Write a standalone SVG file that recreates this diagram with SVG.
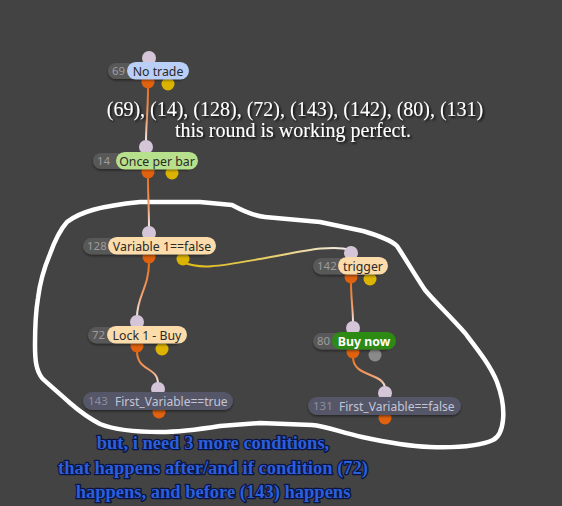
<svg xmlns="http://www.w3.org/2000/svg" width="562" height="506" viewBox="0 0 562 506">
<defs>
<style>
.bg{fill:#434343}
.idp{fill:#585858}
.idt{font-family:"Noto Sans","Open Sans",sans-serif;font-size:11.5px;fill:#9c9c9c}
.lbt{font-family:"Noto Sans","Open Sans",sans-serif;font-size:12.3px;fill:#2a2a2a;text-anchor:middle}
.blue{fill:#b9cff7}
.lgreen{fill:#b7e08c}
.beige{fill:#fcdcaa}
.dgreen{fill:#2d8a12}
.slate{fill:#555668}
.slt{font-family:"Noto Sans","Open Sans",sans-serif;font-size:12px;fill:#c4c5d4}
.pin{fill:#d4c6d8}
.out{fill:#e0620e}
.yel{fill:#dcb400}
.gry{fill:#8a8a8a}
.edge{fill:none;stroke-width:2}
.loop{fill:none;stroke:#ffffff;stroke-width:4.5;stroke-linejoin:round;stroke-linecap:round}
.wt{font-family:"Liberation Serif","Times New Roman",serif;font-size:20px;fill:#ffffff;text-anchor:middle}
.bt{font-family:"Liberation Serif","Times New Roman",serif;font-size:18.5px;font-weight:bold;fill:#2b5fdc;stroke:#0b1440;stroke-width:2.5;paint-order:stroke;stroke-linejoin:round;text-anchor:middle}
</style>
<filter id="sh" x="-10%" y="-30%" width="120%" height="160%">
<feDropShadow dx="1.5" dy="1.5" stdDeviation="1" flood-color="#000" flood-opacity="0.9"/>
</filter>
<filter id="nsh" x="-10%" y="-30%" width="120%" height="180%">
<feDropShadow dx="0" dy="1.5" stdDeviation="1.2" flood-color="#000" flood-opacity="0.45"/>
</filter>
<linearGradient id="g1" gradientUnits="userSpaceOnUse" x1="0" y1="88" x2="0" y2="142"><stop offset="0" stop-color="#e8701a"/><stop offset="0.6" stop-color="#f0a070"/><stop offset="1" stop-color="#f4eef2"/></linearGradient>
<linearGradient id="g2" gradientUnits="userSpaceOnUse" x1="0" y1="178" x2="0" y2="228"><stop offset="0" stop-color="#e8701a"/><stop offset="0.6" stop-color="#f0a070"/><stop offset="1" stop-color="#f4eef2"/></linearGradient>
<linearGradient id="g3" gradientUnits="userSpaceOnUse" x1="0" y1="262" x2="0" y2="317"><stop offset="0" stop-color="#e8701a"/><stop offset="0.6" stop-color="#f0a070"/><stop offset="1" stop-color="#f4eef2"/></linearGradient>
<linearGradient id="g4" gradientUnits="userSpaceOnUse" x1="183" y1="0" x2="351" y2="0"><stop offset="0" stop-color="#e0bc10"/><stop offset="0.55" stop-color="#ead070"/><stop offset="1" stop-color="#f4eef2"/></linearGradient>
<linearGradient id="g5" gradientUnits="userSpaceOnUse" x1="0" y1="282" x2="0" y2="323"><stop offset="0" stop-color="#e8701a"/><stop offset="0.6" stop-color="#f0a070"/><stop offset="1" stop-color="#f4eef2"/></linearGradient>
<linearGradient id="g6" gradientUnits="userSpaceOnUse" x1="0" y1="351" x2="0" y2="384"><stop offset="0" stop-color="#e8701a"/><stop offset="0.6" stop-color="#f0a070"/><stop offset="1" stop-color="#f4eef2"/></linearGradient>
<linearGradient id="g7" gradientUnits="userSpaceOnUse" x1="0" y1="357" x2="0" y2="389"><stop offset="0" stop-color="#e8701a"/><stop offset="0.6" stop-color="#f0a070"/><stop offset="1" stop-color="#f4eef2"/></linearGradient>
</defs>
<rect class="bg" x="0" y="0" width="562" height="506"/>

<g id="loop">
<path class="loop" d="M67,222 C80,212 100,206 140,202 L200,202 L232,205 C245,212 255,216 265,217 L320,222 L363,231 C380,236 392,241 397,246 C405,258 415,275 425,290 C435,302 448,314 465,333 C478,350 490,365 497,382 C503,398 504,410 503,420 C502,430 499,437 493,440 C480,446 460,448 430,447 C405,446 385,442 362,437 C340,432 325,426 312,425 L260,423 L220,426 C195,430 175,432 160,432 C135,432 115,430 100,424 C85,416 78,410 70,403 C58,392 48,384 42,378 C36,370 35,360 35,345 C35,325 36,310 38,298 C40,282 45,266 50,254 C55,240 60,230 67,222 Z"/>
</g>

<g id="connectors">
<path class="edge" stroke="url(#g1)" d="M148,88 C148,110 146,125 146,142"/>
<path class="edge" stroke="url(#g2)" d="M148,178 C148,195 149,210 149,228"/>
<path class="edge" stroke="url(#g3)" d="M149,262 C149,288 137,296 137,317"/>
<path class="edge" stroke="url(#g4)" d="M183,262 C200,270 220,266 260,259 C300,252 330,244 351,250"/>
<path class="edge" stroke="url(#g5)" d="M351,282 C351,300 353,308 353,323"/>
<path class="edge" stroke="url(#g6)" d="M137,351 C137,372 158,366 158,384"/>
<path class="edge" stroke="url(#g7)" d="M353,357 C353,378 385,372 385,389"/>
</g>

<g id="node69">
<circle class="pin" cx="149" cy="58" r="7"/>
<circle class="out" cx="148" cy="82" r="6.5"/>
<circle class="yel" cx="168" cy="84" r="6.5"/>
<rect class="idp" x="108" y="63" width="78" height="16" rx="8" filter="url(#nsh)"/>
<rect class="blue" x="127" y="62" width="62" height="17.5" rx="8.75"/>
<text class="idt" x="112" y="75">69</text>
<text class="lbt" x="158" y="75.5">No trade</text>
</g>

<g id="node14">
<circle class="pin" cx="146" cy="147" r="7"/>
<circle class="out" cx="148" cy="172" r="6.5"/>
<circle class="yel" cx="172" cy="173" r="6.5"/>
<rect class="idp" x="93" y="153" width="100" height="16" rx="8" filter="url(#nsh)"/>
<rect class="lgreen" x="116" y="152" width="82" height="17.5" rx="8.75"/>
<text class="idt" x="97" y="165">14</text>
<text class="lbt" x="157" y="165.5">Once per bar</text>
</g>

<g id="node128">
<circle class="pin" cx="149" cy="233" r="7"/>
<circle class="out" cx="149" cy="257" r="6.5"/>
<circle class="yel" cx="183" cy="259" r="6.5"/>
<rect class="idp" x="83" y="238" width="128" height="16.5" rx="8.25" filter="url(#nsh)"/>
<rect class="beige" x="108" y="237" width="108" height="17.5" rx="8.75"/>
<text class="idt" x="87" y="250">128</text>
<text class="lbt" x="162" y="250.5">Variable 1==false</text>
</g>

<g id="node142">
<circle class="pin" cx="351" cy="253" r="7"/>
<circle class="out" cx="351" cy="277" r="6.5"/>
<circle class="yel" cx="370" cy="279" r="6.5"/>
<rect class="idp" x="313" y="258" width="70" height="16.5" rx="8.25" filter="url(#nsh)"/>
<rect class="beige" x="338" y="257" width="50" height="17.5" rx="8.75"/>
<text class="idt" x="317" y="270">142</text>
<text class="lbt" x="363" y="270.5">trigger</text>
</g>

<g id="node72">
<circle class="pin" cx="137" cy="322" r="7"/>
<circle class="out" cx="137" cy="346" r="6.5"/>
<circle class="yel" cx="162" cy="349" r="6.5"/>
<rect class="idp" x="88" y="327" width="94" height="16.5" rx="8.25" filter="url(#nsh)"/>
<rect class="beige" x="107" y="326" width="80" height="17.5" rx="8.75"/>
<text class="idt" x="92" y="339">72</text>
<text class="lbt" x="147" y="339.5">Lock 1 - Buy</text>
</g>

<g id="node80">
<circle class="pin" cx="353" cy="328" r="7"/>
<circle class="out" cx="353" cy="352" r="6.5"/>
<circle class="gry" cx="375" cy="355" r="6.5"/>
<rect class="idp" x="313" y="333" width="78" height="16.5" rx="8.25" filter="url(#nsh)"/>
<rect class="dgreen" x="332" y="332" width="64" height="17.5" rx="8.75"/>
<text class="idt" x="317" y="345">80</text>
<text class="lbt" x="364" y="345.5" style="fill:#ffffff;font-weight:bold">Buy now</text>
</g>

<g id="node143">
<circle class="pin" cx="158" cy="389" r="7"/>
<circle class="out" cx="159" cy="412" r="6.5"/>
<rect class="slate" x="83" y="392" width="150" height="18" rx="9" filter="url(#nsh)"/>
<text class="idt" x="88" y="405" style="fill:#8e8f9c">143</text>
<text class="slt" x="115" y="405.5">First_Variable==true</text>
</g>

<g id="node131">
<circle class="pin" cx="385" cy="393" r="7"/>
<circle class="out" cx="385" cy="418" r="6.5"/>
<rect class="slate" x="308" y="397" width="153" height="18" rx="9" filter="url(#nsh)"/>
<text class="idt" x="313" y="410" style="fill:#8e8f9c">131</text>
<text class="slt" x="339" y="410.5">First_Variable==false</text>
</g>

<g id="notes">
<text class="wt" x="295" y="116" filter="url(#sh)">(69), (14), (128), (72), (143), (142), (80), (131)</text>
<text class="wt" x="293" y="137" filter="url(#sh)">this round is working perfect.</text>
<text class="bt" x="213" y="449">but, i need 3 more conditions,</text>
<text class="bt" x="213" y="474">that happens after/and if condition (72)</text>
<text class="bt" x="213" y="498">happens, and before (143) happens</text>
</g>
</svg>
